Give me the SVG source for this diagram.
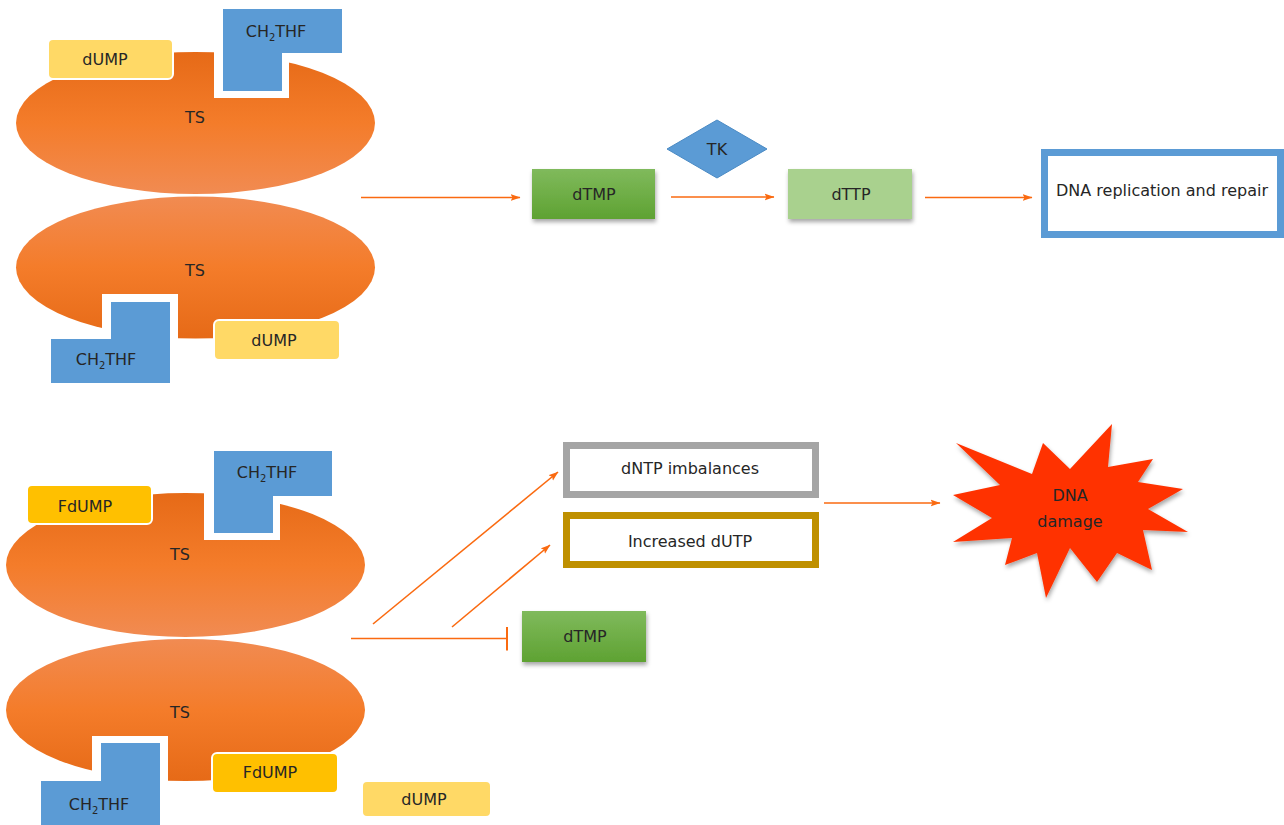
<svg xmlns="http://www.w3.org/2000/svg" width="1284" height="825" viewBox="0 0 1284 825">
<defs>
<linearGradient id="ogDown" x1="0" y1="0" x2="0" y2="1">
<stop offset="0" stop-color="#e66a17"/>
<stop offset="0.5" stop-color="#f47c2a"/>
<stop offset="1" stop-color="#f18b52"/>
</linearGradient>
<linearGradient id="ogUp" x1="0" y1="1" x2="0" y2="0">
<stop offset="0" stop-color="#e66a17"/>
<stop offset="0.5" stop-color="#f47c2a"/>
<stop offset="1" stop-color="#f18b52"/>
</linearGradient>
<linearGradient id="gg" x1="0" y1="0" x2="0" y2="1">
<stop offset="0" stop-color="#80ba5c"/>
<stop offset="1" stop-color="#5ea232"/>
</linearGradient>
<filter id="sh" x="-20%" y="-20%" width="140%" height="150%">
<feDropShadow dx="1" dy="3" stdDeviation="2" flood-color="#000" flood-opacity="0.35"/>
</filter>
<marker id="ah" viewBox="0 0 10 8" refX="9.5" refY="4" markerWidth="10" markerHeight="8" markerUnits="userSpaceOnUse" orient="auto">
<path d="M0,0.5 L10,4 L0,7.5 L2,4 Z" fill="#fa6a10"/>
</marker>
<marker id="bar" viewBox="0 0 4 24" refX="2" refY="12" markerWidth="4" markerHeight="24" markerUnits="userSpaceOnUse" orient="auto">
<rect x="1" y="0" width="2" height="24" fill="#fa6a10"/>
</marker>
</defs>
<style>
text{font-family:"DejaVu Sans",Verdana,sans-serif;font-size:16px;fill:#262626;text-anchor:middle}
.sub{font-size:10px}
.blue{fill:#5b9bd5}
.wht{fill:#ffffff}
.ly{fill:#ffd966;stroke:#ffffff;stroke-width:2}
.dy{fill:#ffc000;stroke:#ffffff;stroke-width:2}
.conn{stroke:#fa6a10;stroke-width:1.6;fill:none}
</style>

<g id="enzyme-top-1">
<ellipse cx="195.5" cy="123" rx="179.5" ry="71" fill="url(#ogDown)"/>
<polygon class="wht" points="214,0 214,98 289,98 289,62 360,62 360,0"/>
<polygon class="blue" points="223,9 342,9 342,53 282,53 282,91 223,91"/>
<text x="276" y="37">CH<tspan class="sub" dy="4">2</tspan><tspan dy="-4">THF</tspan></text>
<rect class="ly" x="48" y="39" width="125" height="40" rx="5"/>
<text x="105" y="65">dUMP</text>
<text x="195" y="123">TS</text>
</g>

<g id="enzyme-top-2">
<ellipse cx="195.5" cy="267.5" rx="179.5" ry="71" fill="url(#ogUp)"/>
<polygon class="wht" points="102,294 178,294 178,400 40,400 40,331 102,331"/>
<polygon class="blue" points="111,302 170,302 170,383 51,383 51,339 111,339"/>
<text x="106" y="365">CH<tspan class="sub" dy="4">2</tspan><tspan dy="-4">THF</tspan></text>
<rect class="ly" x="214" y="320" width="126" height="40" rx="5"/>
<text x="274" y="346">dUMP</text>
<text x="195" y="276">TS</text>
</g>

<g id="enzyme-bottom-1">
<ellipse cx="185.5" cy="565" rx="179.5" ry="72" fill="url(#ogDown)"/>
<polygon class="wht" points="204,440 204,540 280,540 280,504 345,504 345,440"/>
<polygon class="blue" points="214,451 332,451 332,496 273,496 273,533 214,533"/>
<text x="267" y="478">CH<tspan class="sub" dy="4">2</tspan><tspan dy="-4">THF</tspan></text>
<rect class="dy" x="27" y="485" width="125" height="39" rx="5"/>
<text x="85" y="512">FdUMP</text>
<text x="180" y="560">TS</text>
</g>

<g id="enzyme-bottom-2">
<ellipse cx="185.5" cy="710" rx="179.5" ry="71" fill="url(#ogUp)"/>
<polygon class="wht" points="92,736 168,736 168,825 30,825 30,773 92,773"/>
<polygon class="blue" points="101,743 160,743 160,825 41,825 41,781 101,781"/>
<text x="99" y="810">CH<tspan class="sub" dy="4">2</tspan><tspan dy="-4">THF</tspan></text>
<rect class="dy" x="212" y="753" width="126" height="40" rx="5"/>
<text x="270" y="778">FdUMP</text>
<text x="180" y="718">TS</text>
</g>

<g id="dUMP-free">
<rect class="ly" x="362" y="781" width="129" height="36" rx="5"/>
<text x="424" y="805">dUMP</text>
</g>

<g id="dTMP-top">
<rect x="532" y="169" width="123" height="50" fill="url(#gg)" filter="url(#sh)"/>
<text x="594" y="200">dTMP</text>
</g>

<g id="TK">
<polygon points="717,120 767,149 717,178 667,149" fill="#5b9bd5" stroke="#4a8ac4" stroke-width="1"/>
<text x="717" y="155">TK</text>
</g>

<g id="dTTP">
<rect x="788" y="169" width="124" height="50" fill="#a9d18e" filter="url(#sh)"/>
<text x="851" y="200">dTTP</text>
</g>

<g id="DNA-replication">
<rect x="1044.5" y="152.5" width="236" height="82" fill="#ffffff" stroke="#5b9bd5" stroke-width="7"/>
<text x="1162" y="196">DNA replication and repair</text>
</g>

<g id="dNTP-imbalances">
<rect x="566.5" y="445.5" width="249" height="49" fill="#ffffff" stroke="#a5a5a5" stroke-width="7"/>
<text x="690" y="474">dNTP imbalances</text>
</g>

<g id="increased-dUTP">
<rect x="566.5" y="515.5" width="249" height="49" fill="#ffffff" stroke="#bf9000" stroke-width="7"/>
<text x="690" y="547">Increased dUTP</text>
</g>

<g id="dTMP-bottom">
<rect x="522" y="611" width="124" height="51" fill="url(#gg)" filter="url(#sh)"/>
<text x="585" y="642">dTMP</text>
</g>

<g id="DNA-damage">
<polygon points="956,443 1032,474 1043,443 1070,469 1112,424 1108,467 1153,459 1138,482 1183,489 1148,509 1188,532 1143,530 1152,570 1117,553 1097,582 1070,548 1046,598 1037,553 1005,565 1012,538 953,542 992,518 953,495 1000,485" fill="#ff3300" filter="url(#sh)"/>
<text x="1070" y="501">DNA</text>
<text x="1070" y="527">damage</text>
</g>

<g id="connectors">
<line class="conn" x1="361" y1="197.5" x2="520" y2="197.5" marker-end="url(#ah)"/>
<line class="conn" x1="671" y1="197" x2="774" y2="197" marker-end="url(#ah)"/>
<line class="conn" x1="925" y1="197.5" x2="1032" y2="197.5" marker-end="url(#ah)"/>
<line class="conn" x1="373" y1="624" x2="558" y2="472" marker-end="url(#ah)"/>
<line class="conn" x1="452" y1="627" x2="550" y2="545" marker-end="url(#ah)"/>
<line class="conn" x1="351" y1="638.5" x2="507" y2="638.5" marker-end="url(#bar)"/>
<line class="conn" x1="824" y1="503" x2="940" y2="503" marker-end="url(#ah)"/>
</g>
</svg>
